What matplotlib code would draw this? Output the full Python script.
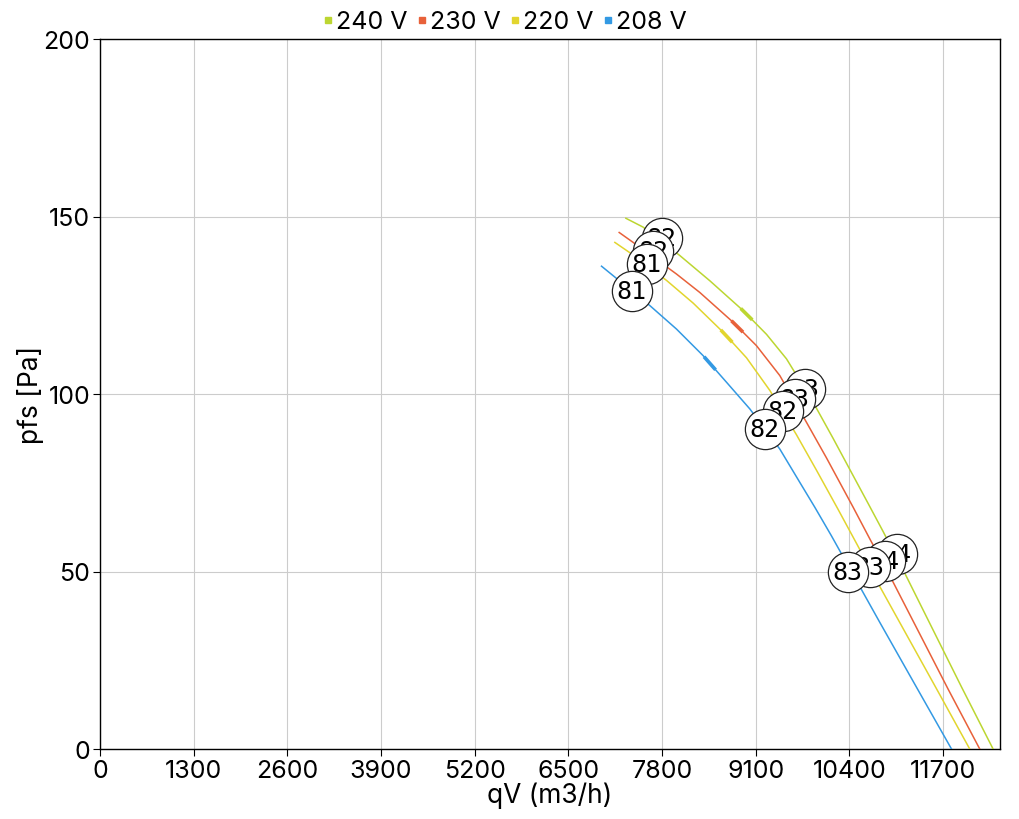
import numpy as np
import matplotlib
matplotlib.use("Agg")
import matplotlib.pyplot as plt
from matplotlib.font_manager import FontProperties

plt.rcParams['font.family'] = ['Inter', 'DejaVu Sans']

# curves (qV in m3/h, pfs in Pa)
names = ["240 V", "230 V", "220 V", "208 V"]
colors = ["#bcd631", "#e8613a", "#e2d52e", "#3399e3"]

qv_240 = [7298, 7538, 8047, 8463, 8925, 9250, 9527, 9896, 10174, 10452, 10659, 10867, 11169, 11955, 12394]
pf_240 = [149.5, 147.0, 139.0, 131.9, 123.5, 116.8, 109.9, 97.7, 87.5, 77.0, 69.2, 61.3, 49.5, 17.5, 0]
qv_230 = [7205, 7399, 8000, 8324, 8787, 9111, 9434, 9805, 10082, 10452, 10683, 10984, 11769, 12209]
pf_230 = [145.5, 142.7, 133.8, 128.6, 120.2, 113.6, 105.2, 92.0, 82.0, 68.1, 59.2, 47.9, 16.9, 0]
qv_220 = [7145, 7353, 7862, 8232, 8648, 8972, 9296, 9666, 9944, 10243, 10475, 10821, 11608, 12070]
pf_220 = [142.7, 139.8, 132.0, 125.6, 117.4, 110.2, 101.0, 88.5, 78.5, 67.5, 58.8, 45.8, 17.0, 0]
qv_208 = [6960, 7631, 8000, 8370, 8695, 9018, 9434, 9712, 9920, 10152, 10821, 11331, 11817]
pf_208 = [136.0, 124.9, 118.3, 110.8, 103.3, 95.8, 84.5, 75.1, 68.1, 60.0, 35.7, 17.4, 0]

# operating points with their labels
op_qv = [[7793, 9781, 11058], [7677, 9643, 10891], [7585, 9472, 10683], [7377, 9226, 10378]]
op_pf = [[143.9, 101.4, 54.9], [140.4, 98.6, 53.0], [136.6, 95.3, 51.3], [129.1, 90.1, 49.9]]
op_lab = [["82", "83", "84"], ["82", "83", "84"], ["81", "82", "83"], ["81", "82", "83"]]

# small direction marks on each curve
mark_qv = [8972, 8843, 8695, 8463]

xticks = [0, 1300, 2600, 3900, 5200, 6500, 7800, 9100, 10400, 11700]
yticks = [0, 50, 100, 150, 200]

curves = [(qv_240, pf_240), (qv_230, pf_230), (qv_220, pf_220), (qv_208, pf_208)]
mono = FontProperties(family='DejaVu Sans Mono', size=18)

fig = plt.figure(figsize=(10.2, 8.2), dpi=100)
ax = fig.add_axes([100/1020, 70/820, 900/1020, 710/820])

for i in range(4):
    x, y = curves[i]
    ax.plot(x, y, color=colors[i], lw=1.1, zorder=3 + i*0.1, label=names[i])
    # little arrow-like thickening along the curve
    mx = np.array([mark_qv[i] - 80, mark_qv[i] + 80])
    ax.plot(mx, np.interp(mx, x, y), color=colors[i], lw=2.6, zorder=3 + i*0.1,
            solid_capstyle='butt')

for i in range(4):
    for j in range(3):
        z = 5 + i + j*0.01
        ax.scatter(op_qv[i][j], op_pf[i][j], s=840, facecolor='white', edgecolor='#222222',
                   linewidth=0.9, zorder=z)
        ax.text(op_qv[i][j], op_pf[i][j], op_lab[i][j], ha='center', va='center',
                fontproperties=mono, zorder=z + 0.005)

ax.set_xlim(0, 12490)
ax.set_ylim(0, 200)
ax.set_xticks(xticks)
ax.set_yticks(yticks)
ax.grid(True, color='#cccccc', lw=0.8)
ax.set_axisbelow(True)
ax.tick_params(labelsize=18, length=5, width=0.8, pad=2)
for s in ax.spines.values():
    s.set_linewidth(1)
ax.set_xlabel("qV (m3/h)", fontsize=19, labelpad=0)
ax.set_ylabel("pfs [Pa]", fontsize=19, labelpad=0)

handles = [plt.Line2D([], [], ls='none', marker='s', markersize=4, color=c) for c in colors]
fig.legend(handles, names, loc='center', bbox_to_anchor=(0.495, 0.972), ncol=4, frameon=False,
           fontsize=18, handlelength=0.4, handletextpad=0.1, columnspacing=0.4)

plt.savefig('out.png')
